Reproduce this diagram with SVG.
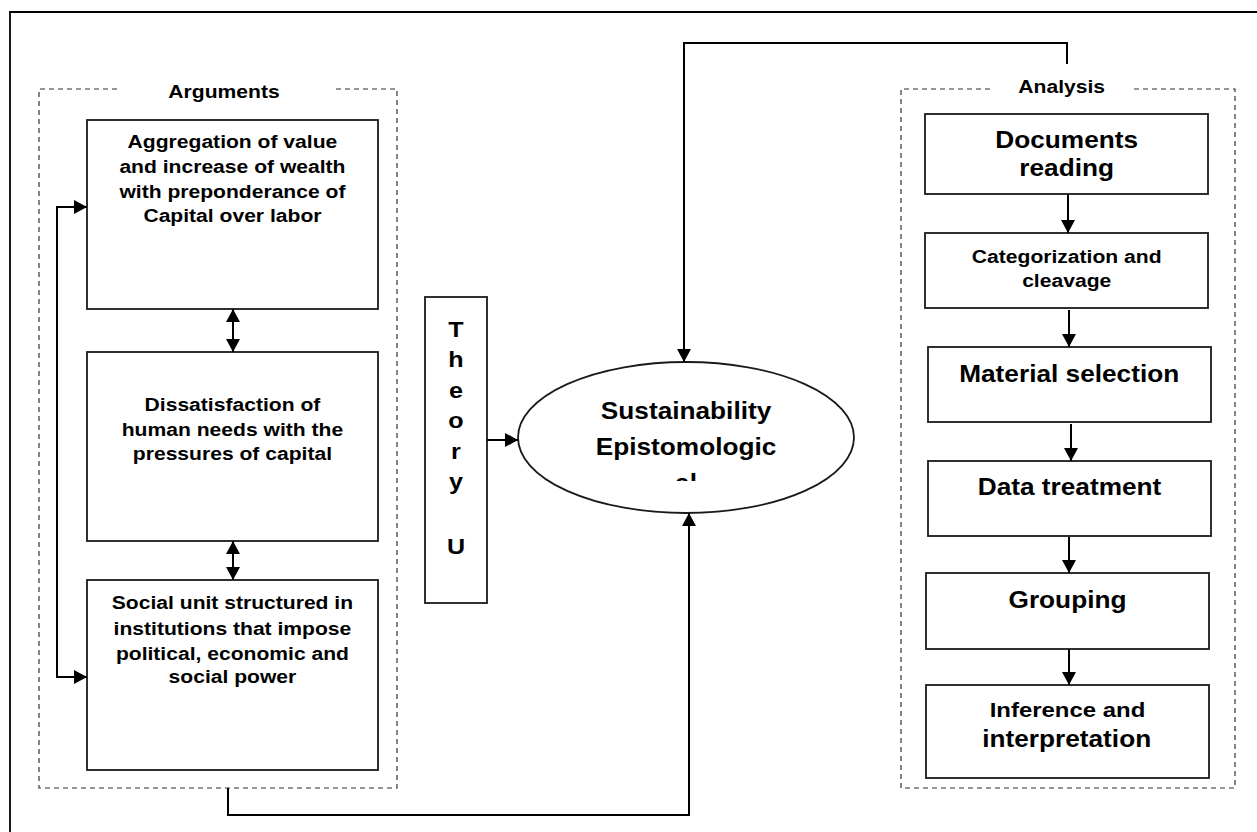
<svg xmlns="http://www.w3.org/2000/svg" width="1257" height="832" viewBox="0 0 1257 832">
<style>
  .frame{fill:none;stroke:#000;stroke-width:1.8}
  .box{fill:#fff;stroke:#1a1a1a;stroke-width:1.8}
  .dash{fill:none;stroke:#333;stroke-width:1.2;stroke-dasharray:5 4}
  .conn{fill:none;stroke:#000;stroke-width:2}
  text{font-family:"Liberation Sans",Arial,sans-serif;font-weight:bold;fill:#000;text-anchor:middle}
  .s18{font-size:18.5px}
  .s21{font-size:21px}
  .s22{font-size:22px}
  .s23{font-size:23px}
</style>
<defs>
  <marker id="ah" markerUnits="userSpaceOnUse" markerWidth="13" markerHeight="14" viewBox="0 0 13 14" refX="13" refY="7" orient="auto-start-reverse">
    <path d="M0,0 L13,7 L0,14 z" fill="#000"/>
  </marker>
  <clipPath id="elclip" clipPathUnits="userSpaceOnUse">
    <rect x="0" y="0" width="2000" height="481"/>
  </clipPath>
</defs>
<rect width="1257" height="832" fill="#fff"/>

<g id="frame">
  <path class="frame" d="M10,832 V12 H1257"/>
</g>

<g id="arguments-group">
  <path class="dash" d="M117,89 H39 V788 H397 V89 H333"/>
  <g transform="scale(1.14 1)"><text class="s18" x="196.5" y="98">Arguments</text></g>
</g>

<g id="arg1">
  <rect class="box" x="87" y="120" width="291" height="189"/>
  <g transform="scale(1.14 1)">
    <text class="s18" x="203.9" y="148.3">Aggregation of value</text>
    <text class="s18" x="203.9" y="173">and increase of wealth</text>
    <text class="s18" x="203.9" y="197.7">with preponderance of</text>
    <text class="s18" x="203.9" y="222.3">Capital over labor</text>
  </g>
</g>

<g id="arg2">
  <rect class="box" x="87" y="352" width="291" height="189"/>
  <g transform="scale(1.14 1)">
    <text class="s18" x="203.9" y="411.5">Dissatisfaction of</text>
    <text class="s18" x="203.9" y="435.7">human needs with the</text>
    <text class="s18" x="203.9" y="460">pressures of capital</text>
  </g>
</g>

<g id="arg3">
  <rect class="box" x="87" y="580" width="291" height="190"/>
  <g transform="scale(1.14 1)">
    <text class="s18" x="203.9" y="609.3">Social unit structured in</text>
    <text class="s18" x="203.9" y="635">institutions that impose</text>
    <text class="s18" x="203.9" y="660">political, economic and</text>
    <text class="s18" x="203.9" y="683.3">social power</text>
  </g>
</g>

<g id="theory-u">
  <rect class="box" x="425" y="297" width="62" height="306"/>
  <g transform="scale(1.14 1)">
    <text class="s22" x="400" y="337">T</text>
    <text class="s22" x="400" y="367.5">h</text>
    <text class="s22" x="400" y="398">e</text>
    <text class="s22" x="400" y="428.5">o</text>
    <text class="s22" x="400" y="459">r</text>
    <text class="s22" x="400" y="489">y</text>
    <text class="s22" x="400" y="554">U</text>
  </g>
</g>

<g id="sustainability">
  <ellipse class="box" cx="686" cy="437.5" rx="168" ry="75.5"/>
  <g transform="scale(1.14 1)">
    <text class="s23" x="601.8" y="419">Sustainability</text>
    <text class="s23" x="601.8" y="455">Epistomologic</text>
    <text class="s23" x="601.8" y="491" clip-path="url(#elclip)">al</text>
  </g>
</g>

<g id="analysis-group">
  <path class="dash" d="M990,89 H901 V788 H1235 V89 H1133"/>
  <g transform="scale(1.14 1)"><text class="s18" x="931.3" y="93.3">Analysis</text></g>
</g>

<g id="documents-reading">
  <rect class="box" x="925" y="114" width="283" height="80"/>
  <g transform="scale(1.14 1)">
    <text class="s23" x="935.7" y="148.3">Documents</text>
    <text class="s23" x="935.7" y="176">reading</text>
  </g>
</g>

<g id="categorization">
  <rect class="box" x="925" y="233" width="283" height="75"/>
  <g transform="scale(1.14 1)">
    <text class="s18" x="935.7" y="263.3">Categorization and</text>
    <text class="s18" x="935.7" y="286.7">cleavage</text>
  </g>
</g>

<g id="material-selection">
  <rect class="box" x="928" y="347" width="283" height="75"/>
  <g transform="scale(1.14 1)"><text class="s23" x="937.9" y="381.7">Material selection</text></g>
</g>

<g id="data-treatment">
  <rect class="box" x="928" y="461" width="283" height="75"/>
  <g transform="scale(1.14 1)"><text class="s23" x="938.2" y="495">Data treatment</text></g>
</g>

<g id="grouping">
  <rect class="box" x="926" y="573" width="283" height="76"/>
  <g transform="scale(1.14 1)"><text class="s23" x="936.4" y="608.3">Grouping</text></g>
</g>

<g id="inference">
  <rect class="box" x="926" y="685" width="283" height="93"/>
  <g transform="scale(1.14 1)">
    <text class="s21" x="936.4" y="716.7">Inference and</text>
    <text class="s23" x="935.7" y="746.7">interpretation</text>
  </g>
</g>

<g id="connectors">
  <path class="conn" d="M87,207 H57 V677 H87" marker-start="url(#ah)" marker-end="url(#ah)"/>
  <path class="conn" d="M233,309 V352" marker-start="url(#ah)" marker-end="url(#ah)"/>
  <path class="conn" d="M233,541 V580" marker-start="url(#ah)" marker-end="url(#ah)"/>
  <path class="conn" d="M487,440 H518" marker-end="url(#ah)"/>
  <path class="conn" d="M228,788 V815 H689 V513" marker-end="url(#ah)"/>
  <path class="conn" d="M1067,64 V43 H684 V362" marker-end="url(#ah)"/>
  <path class="conn" d="M1068,194 V233" marker-end="url(#ah)"/>
  <path class="conn" d="M1069,310 V347" marker-end="url(#ah)"/>
  <path class="conn" d="M1071,424 V461" marker-end="url(#ah)"/>
  <path class="conn" d="M1069,537 V573" marker-end="url(#ah)"/>
  <path class="conn" d="M1069,649 V685" marker-end="url(#ah)"/>
</g>
</svg>
